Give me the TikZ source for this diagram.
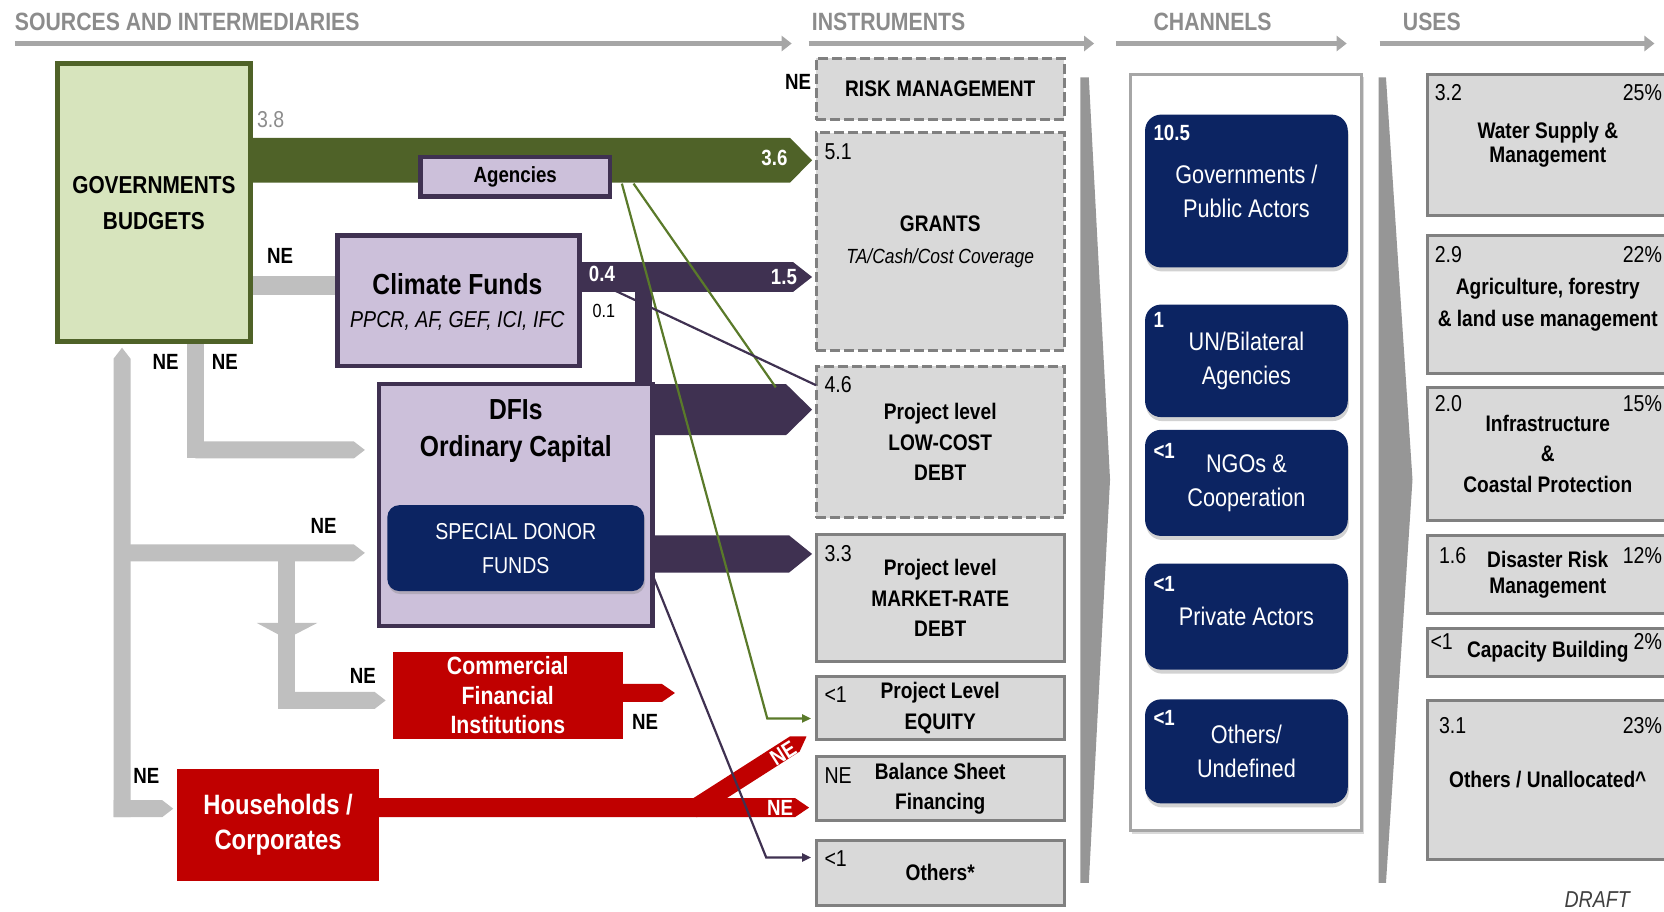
\documentclass[tikz,border=0pt]{standalone}
\usepackage{fontspec}
\setmainfont{Liberation Sans}[FakeStretch=0.85]
\usetikzlibrary{arrows.meta, calc, positioning, shadows}

\definecolor{govgreen}{HTML}{4F6228}
\definecolor{govfill}{HTML}{D7E4BD}
\definecolor{fundfill}{HTML}{CCC0DA}
\definecolor{fundline}{HTML}{3F3151}
\definecolor{navyblue}{HTML}{0C2462}
\definecolor{bankred}{HTML}{C00000}
\definecolor{flowgray}{HTML}{BFBFBF}
\definecolor{insfill}{HTML}{D9D9D9}
\definecolor{insline}{HTML}{808080}
\definecolor{hdrtext}{HTML}{8C8C8C}
\definecolor{hdrline}{HTML}{A6A6A6}
\definecolor{wedgegray}{HTML}{969696}
\definecolor{thingreen}{HTML}{5A7A2A}

\pgfdeclarelayer{flows}
\pgfsetlayers{flows,main}

\tikzset{
  every node/.style={inner sep=0pt, outer sep=0pt},
  boxat/.style n args={4}{at={({(#1+#3)/2},{(#2+#4)/2})},
    minimum width=(#3-#1)*1.0612pt, minimum height=(#4-#2)*1.0612pt},
  hdr/.style={anchor=west, text=hdrtext, font=\fontsize{25}{25}\selectfont\bfseries},
  hdrarrow/.style={draw=hdrline, line width=5pt, -{Triangle[length=10pt, width=15pt]}},
  govbox/.style={draw=govgreen, fill=govfill, line width=4.5pt},
  fundbox/.style={draw=fundline, fill=fundfill, line width=4.5pt},
  donorbox/.style={fill=navyblue, rounded corners=12pt, text=white, align=center,
    font=\fontsize{23}{34}\selectfont,
    drop shadow={opacity=0.35, shadow xshift=1pt, shadow yshift=-3pt}},
  bankbox/.style={fill=bankred, text=white, align=center},
  insbox/.style={draw=insline, fill=insfill, line width=3pt, align=center,
    font=\fontsize{22.5}{30.5}\selectfont\bfseries},
  dashbox/.style={insbox, dash pattern=on 10pt off 4pt},
  chanframe/.style={draw=hdrline, fill=white, line width=3pt,
    drop shadow={opacity=0.3, shadow xshift=2pt, shadow yshift=-3pt}},
  chanbox/.style={fill=navyblue, rounded corners=16pt, text=white, align=center,
    font=\fontsize{25.5}{34}\selectfont,
    drop shadow={opacity=0.35, shadow xshift=1pt, shadow yshift=-4pt}},
  usebox/.style={insbox},
  bigtxt/.style={font=\fontsize{29}{29}\selectfont\bfseries},
  numtxt/.style={font=\fontsize{23}{23}\selectfont},
  wnum/.style={font=\fontsize{22}{22}\selectfont\bfseries, text=white},
  netxt/.style={font=\fontsize{22}{22}\selectfont\bfseries},
  flowband/.style n args={3}{to path={let \p1=(\tikztostart),
      \p2=($(\tikztotarget)!#3!(\tikztostart)$), \p3=($(\p2)!#2!(\p1)$) in
      ($(\p1)!#1!-90:(\p2)$) -- ($(\p3)!#1!90:(\p1)$) -- (\p2)
      -- ($(\p3)!#1!-90:(\p1)$) -- ($(\p1)!#1!90:(\p2)$) -- cycle}},
  grayline/.style={draw=flowgray, line width=17pt},
  thinline/.style={line width=2.2pt},
  thintip/.style={-{Triangle[length=9pt, width=8pt]}, shorten >=5pt},
}

\begin{document}
\begin{tikzpicture}[x=1.0612pt, y=-1.0612pt]
\useasboundingbox (0,0) rectangle (1568,859);

% headings
\foreach \name/\txt/\tx/\ax/\bx in {src/SOURCES AND INTERMEDIARIES/14/14/746,
    ins/INSTRUMENTS/765/762/1031, cha/CHANNELS/1087/1052/1269, use/USES/1322/1300/1559}
{
  \node[hdr] (h\name) at (\tx,21) {\txt};
  \coordinate (a\name) at (\ax,41);
  \coordinate (b\name) at (\bx,41);
  \draw[hdrarrow] (a\name) -- (b\name);
}

% sources and intermediaries
\node[govbox, boxat={54}{60}{236}{322}, align=center,
  font=\fontsize{24.5}{36}\selectfont\bfseries] (gov) {GOVERNMENTS\\BUDGETS};
\node[fundbox, boxat={396}{148}{575}{185}, font=\fontsize{22}{22}\selectfont\bfseries] (agencies) {Agencies};
\node[fundbox, boxat={318}{222}{546}{345}] (climate) {};
\node[bigtxt] (cfname) at (431,268) {Climate Funds};
\node[font=\fontsize{23}{23}\selectfont\itshape] (cflist) at (431,302) {PPCR, AF, GEF, ICI, IFC};
\node[fundbox, boxat={357}{362}{615}{590}] (dfi) {};
\node[bigtxt] (dfiname) at (486,386) {DFIs};
\node[bigtxt] (dficap) at (486,423) {Ordinary Capital};
\node[donorbox, boxat={365}{476}{607}{557}] (donor) {SPECIAL DONOR\\FUNDS};
\node[bankbox, boxat={370}{614}{587}{696}, font=\fontsize{25}{29.7}\selectfont\bfseries] (comm)
  {Commercial\\Financial\\Institutions};
\node[bankbox, boxat={167}{725}{357}{830}, font=\fontsize{28}{35}\selectfont\bfseries] (hh)
  {Households /\\Corporates};

% instruments
\node[dashbox, boxat={769}{55}{1003}{113}] (risk) {RISK MANAGEMENT};
\node[dashbox, boxat={769}{125}{1003}{330}, font=\fontsize{22.5}{32}\selectfont\bfseries] (grants)
  {GRANTS\\{\mdseries\itshape\fontsize{20.5}{20.5}\selectfont TA/Cash/Cost Coverage}};
\node[dashbox, boxat={769}{345}{1003}{488}] (lowcost) {Project level\\LOW-COST\\DEBT};
\node[insbox, boxat={769}{504}{1003}{623}] (market) {Project level\\MARKET-RATE\\DEBT};
\node[insbox, boxat={769}{637}{1003}{697}] (equity) {Project Level\\EQUITY};
\node[insbox, boxat={769}{713}{1003}{773}] (balance) {Balance Sheet\\Financing};
\node[insbox, boxat={769}{792}{1003}{853}] (others) {Others*};
\foreach \bname/\val in {grants/5.1, lowcost/4.6, market/3.3, equity/<1, balance/NE, others/<1}
  \node[numtxt, anchor=north west] (n\bname) at ([shift={(8,10)}]\bname.north west) {\val};

% separators
\fill[wedgegray] (1018,73) -- (1026,73) -- (1046,452) -- (1026,832) -- (1018,832) -- cycle;
\fill[wedgegray] (1299,73) -- (1306,73) -- (1331,452) -- (1306,832) -- (1299,832) -- cycle;

% channels
\node[chanframe, boxat={1065}{70}{1283}{783}] (channels) {};
\node[chanbox, boxat={1079}{108}{1270}{252}] (cgov) {Governments /\\Public Actors};
\node[chanbox, boxat={1079}{287}{1270}{393}] (cun) {UN/Bilateral\\Agencies};
\node[chanbox, boxat={1079}{405}{1270}{505}] (cngo) {NGOs \&\\Cooperation};
\node[chanbox, boxat={1079}{531}{1270}{631}] (cpriv) {Private Actors};
\node[chanbox, boxat={1079}{659}{1270}{757}] (coth) {Others/\\Undefined};
\foreach \bname/\val/\dy in {cgov/10.5/10, cun/1/7, cngo/<1/13, cpriv/<1/12, coth/<1/10}
  \node[wnum, anchor=north west] (n\bname) at ([shift={(8,\dy)}]\bname.north west) {\val};

% uses
\node[usebox, boxat={1345}{70}{1572}{203}, font=\fontsize{22.5}{24.5}\selectfont\bfseries] (uwater)
  {Water Supply \&\\Management};
\node[usebox, boxat={1345}{222}{1572}{352}, font=\fontsize{22.5}{32}\selectfont\bfseries] (uagri)
  {Agriculture, forestry\\\& land use management};
\node[usebox, boxat={1345}{365}{1572}{490}] (uinfra) {Infrastructure\\\&\\Coastal Protection};
\node[usebox, boxat={1345}{505}{1572}{578}, font=\fontsize{22.5}{25.5}\selectfont\bfseries] (udis)
  {Disaster Risk\\Management};
\node[usebox, boxat={1345}{592}{1572}{637}] (ucap) {Capacity Building};
\node[usebox, boxat={1345}{660}{1572}{810}] (uoth) {Others / Unallocated\textasciicircum};
\foreach \bname/\val/\pct/\dx/\dy in {uwater/3.2/25\%/7/10, uagri/2.9/22\%/7/10, uinfra/2.0/15\%/7/8,
    udis/1.6/12\%/11/11, ucap/<1/2\%/3/5, uoth/3.1/23\%/11/16}
{
  \node[numtxt, anchor=north west] (l\bname) at ([shift={(\dx,\dy)}]\bname.north west) {\val};
  \node[numtxt, anchor=north east] (r\bname) at ([shift={(-6,\dy)}]\bname.north east) {\pct};
}
\node[font=\fontsize{23}{23}\selectfont\itshape, text=black!75] (draft) at (1505,848) {DRAFT};

% flows
\coordinate (commtip) at (636,653);
\coordinate (hhfork) at (652,763);
\coordinate (eqtip) at (760,694);
\begin{pgfonlayer}{flows}
  \draw[grayline, line width=19pt] (gov.east |- 0,269) -- (climate.west |- 0,269);
  \draw[grayline] (gov.south -| 184,0) -- (184,432);
  \fill[flowgray, flowband={8.5pt}{11pt}{14pt}] (184,424) to (dfi.west |- 0,424);
  \fill[flowgray, flowband={8.5pt}{11pt}{6pt}] (115,770) to (gov.south -| 115,0);
  \fill[flowgray, flowband={8.5pt}{11pt}{4pt}] (107,762) to (hh.west |- 0,762);
  \fill[flowgray, flowband={8.5pt}{11pt}{14pt}] (115,521) to (dfi.west |- 0,521);
  \draw[grayline] (270,521) -- (270,668);
  \fill[flowgray, flowband={8.5pt}{11pt}{7pt}] (270,660) to (comm.west |- 0,660);
  \fill[flowgray] (242,587) -- (299,587) -- (270,602) -- cycle;
  \fill[govgreen, flowband={22.3pt}{22pt}{4pt}] (gov.east |- 0,151) to (grants.west |- 0,151);
  \fill[fundline, flowband={14.9pt}{19pt}{4pt}] (climate.east |- 0,261) to (grants.west |- 0,261);
  \draw[fundline, line width=17pt] (606,261) -- (dfi.north -| 606,0);
  \fill[fundline, flowband={25.5pt}{26pt}{4pt}] (dfi.east |- 0,386) to (lowcost.west |- 0,386);
  \fill[fundline, flowband={18.6pt}{23pt}{4pt}] (dfi.east |- 0,522) to (market.west |- 0,522);
  \fill[bankred, flowband={9pt}{13pt}{0pt}] (comm.east |- 0,653) to (commtip);
  \fill[bankred, flowband={9pt}{14pt}{0pt}] (hhfork) to (eqtip);
  \fill[bankred, flowband={9.5pt}{14pt}{7pt}] (hh.east |- 0,761) to (balance.west |- 0,761);
\end{pgfonlayer}

% flow labels
\node[numtxt, text=hdrtext] (v38) at (255,113) {3.8};
\node[wnum, anchor=east] (v36) at (742,149) {3.6};
\node[wnum, anchor=west] (v04) at (555,258) {0.4};
\node[wnum, anchor=east] (v15) at (751,261) {1.5};
\node[font=\fontsize{19}{19}\selectfont] (v01) at (569,293) {0.1};
\foreach \nm/\px/\py in {nerisk/752/77, neclim/264/241, neup/156/341, nedfi/212/341,
    nemid/305/496, necomm/342/637, nehh/138/731, nebank/608/680}
  \node[netxt] (\nm) at (\px,\py) {NE};
\node[wnum] (nebal) at (735,761) {NE};
\node[wnum, rotate=32] (neeq) at (738,710) {NE};

% thin links
\coordinate (agA) at (586,173);
\coordinate (agB) at (597,173);
\coordinate (eqbend) at (723,677);
\coordinate (lcend) at (731,365);
\coordinate (cfsplit) at (565,267);
\coordinate (otbend) at (722,808);
\draw[thingreen, thinline, thintip] (agA) -- (eqbend) -- (equity.west |- eqbend);
\draw[thingreen, thinline] (agB) -- (lcend);
\draw[fundline, thinline] (cfsplit) -- (lowcost.west |- 0,363);
\draw[fundline, thinline, thintip] (dfi.east |- 0,542) -- (otbend) -- (others.west |- otbend);
\end{tikzpicture}
\end{document}
